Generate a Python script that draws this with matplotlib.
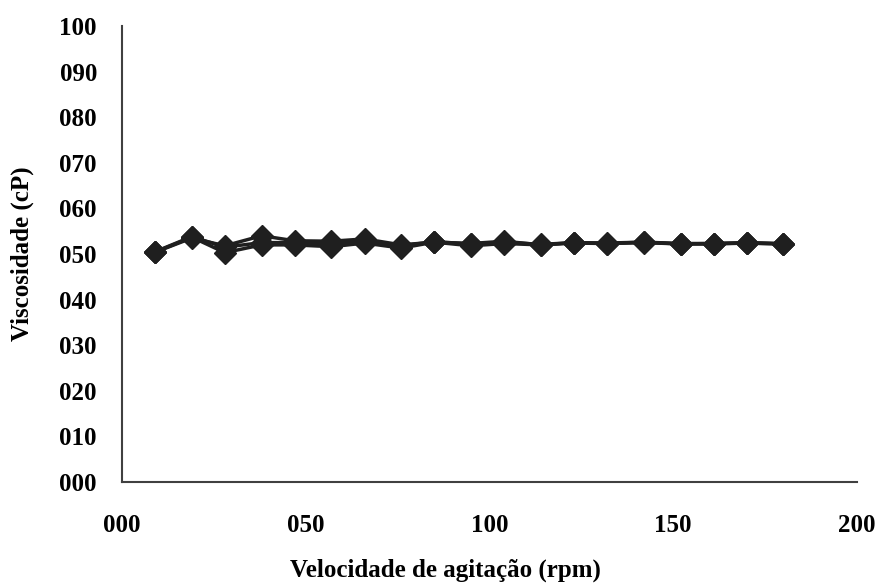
import matplotlib
matplotlib.use('Agg')
import matplotlib.pyplot as plt

# velocidade de agitação (rpm)
rpm = [9, 19, 28, 38, 47, 57, 66, 76, 85, 95, 104, 114, 123, 132, 142, 152, 161, 170, 180]

# viscosidade (cP), tres leituras
visc_1 = [50.4, 53.7, 50.3, 52.0, 52.0, 51.6, 52.4, 51.3, 52.6, 51.8, 52.3, 52.0, 52.4, 52.3, 52.5, 52.2, 52.2, 52.4, 52.2]
visc_2 = [50.4, 53.5, 51.8, 54.0, 52.9, 52.8, 53.3, 52.0, 52.6, 52.3, 52.8, 52.0, 52.5, 52.4, 52.6, 52.2, 52.3, 52.4, 52.2]
visc_3 = [50.5, 53.8, 51.5, 52.5, 52.5, 52.2, 52.8, 51.8, 52.7, 52.2, 52.6, 52.1, 52.5, 52.3, 52.6, 52.3, 52.3, 52.5, 52.3]

x_ticks = [0, 50, 100, 150, 200]
y_ticks = [0, 10, 20, 30, 40, 50, 60, 70, 80, 90, 100]

plt.rcParams['font.family'] = ['Liberation Serif', 'DejaVu Serif']
plt.rcParams['font.weight'] = 'bold'

fig = plt.figure(figsize=(8.79, 5.86), dpi=100)
ax = fig.add_axes([122/879, 1 - 482/586, (857 - 122)/879, (482 - 26)/586])

for v in [visc_1, visc_2, visc_3]:
    ax.plot(rpm, v, color='#1f1f1f', linewidth=2.5, marker='D', markersize=11,
            markeredgecolor='#1f1f1f', markerfacecolor='#1f1f1f')

ax.set_xlim(0, 200)
ax.set_ylim(0, 100)
ax.set_xticks(x_ticks)
ax.set_xticklabels(['%03d' % t for t in x_ticks])
ax.set_yticks(y_ticks)
ax.set_yticklabels(['%03d' % t for t in y_ticks])
ax.tick_params(axis='both', length=0, labelsize=18)
ax.tick_params(axis='x', pad=23)
ax.tick_params(axis='y', pad=18)

for s in ['top', 'right']:
    ax.spines[s].set_visible(False)
for s in ['left', 'bottom']:
    ax.spines[s].set_color('#404040')
    ax.spines[s].set_linewidth(1.5)

fig.text(445/879, 1 - 570/586, 'Velocidade de agitação (rpm)', fontsize=18,
         fontweight='bold', ha='center', va='center')
fig.text(22/879, 1 - 254/586, 'Viscosidade (cP)', fontsize=18,
         fontweight='bold', ha='center', va='center', rotation=90)

fig.savefig('out.png', dpi=100)
